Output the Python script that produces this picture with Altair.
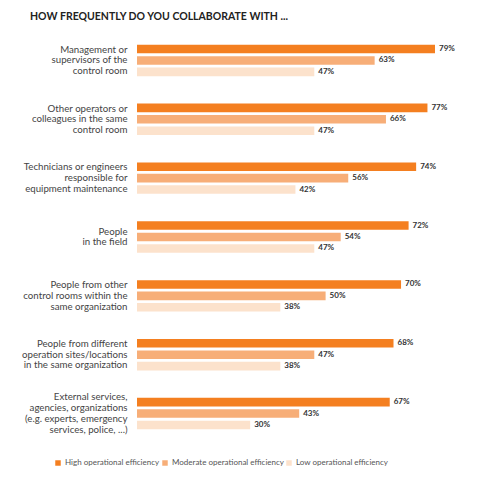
import altair as alt
import pandas as pd

categories = [
    "Management or|supervisors of the|control room",
    "Other operators or|colleagues in the same|control room",
    "Technicians or engineers|responsible for|equipment maintenance",
    "People|in the field",
    "People from other|control rooms within the|same organization",
    "People from different|operation sites/locations|in the same organization",
    "External services,|agencies, organizations|(e.g. experts, emergency|services, police, ...)",
]
series = ["High operational efficiency", "Moderate operational efficiency", "Low operational efficiency"]
high = [79, 77, 74, 72, 70, 68, 67]
moderate = [63, 66, 56, 54, 50, 47, 43]
low = [47, 47, 42, 47, 38, 38, 30]
colors = ["#F47F20", "#F7AE78", "#FCE2CC"]

rows = []
for i, c in enumerate(categories):
    for s, vals in zip(series, [high, moderate, low]):
        rows.append({"category": c, "series": s, "value": vals[i], "label": f"{vals[i]}%"})
df = pd.DataFrame(rows)

FONT = "Lato"
LH = 10.8

label_offset = {
    "condition": [
        {"test": "length(split(datum.label, '|')) == 2", "value": -LH / 2},
        {"test": "length(split(datum.label, '|')) == 3", "value": -LH},
        {"test": "length(split(datum.label, '|')) == 4", "value": -1.5 * LH},
    ],
    "value": 0,
}

base = alt.Chart(df).encode(
    y=alt.Y(
        "category:N",
        sort=categories,
        scale=alt.Scale(paddingInner=0.467, paddingOuter=0.2),
        axis=alt.Axis(
            title=None, domain=False, ticks=False,
            labelExpr="split(datum.label, '|')",
            labelFont=FONT, labelFontSize=9.7, labelColor="#444444",
            labelPadding=10, labelLineHeight=LH, labelOffset=label_offset,
            minExtent=125, maxExtent=125, labelLimit=200,
        ),
    ),
    yOffset=alt.YOffset("series:N", sort=series, scale=alt.Scale(paddingInner=0.25)),
    x=alt.X("value:Q", scale=alt.Scale(domain=[0, 79], nice=False), axis=None),
)

bars = base.mark_bar().encode(
    color=alt.Color(
        "series:N",
        sort=series,
        scale=alt.Scale(domain=series, range=colors),
        legend=alt.Legend(
            title=None, orient="none", direction="horizontal",
            legendX=-83, legendY=426,
            symbolType="square", symbolSize=30, symbolStrokeWidth=0,
            labelFont=FONT, labelFontSize=8, labelColor="#555555",
            columnPadding=1, labelOffset=3, padding=0,
        ),
    )
)

text = base.mark_text(align="left", baseline="middle", dx=4, font=FONT,
                      fontSize=8, fontWeight="bold", color="#333333").encode(
    text="label:N"
)

chart = (bars + text).properties(
    width=298,
    height=408,
    padding={"left": 4, "top": 3, "right": 5, "bottom": 5},
    title=alt.TitleParams(
        "HOW FREQUENTLY DO YOU COLLABORATE WITH ...",
        anchor="start", frame="group", dx=-107, offset=11,
        font=FONT, fontSize=10.5, fontWeight="bold", color="#222222",
    ),
).configure_view(stroke=None)

chart.save("out.html", embed_options={"renderer": "svg", "actions": False})
